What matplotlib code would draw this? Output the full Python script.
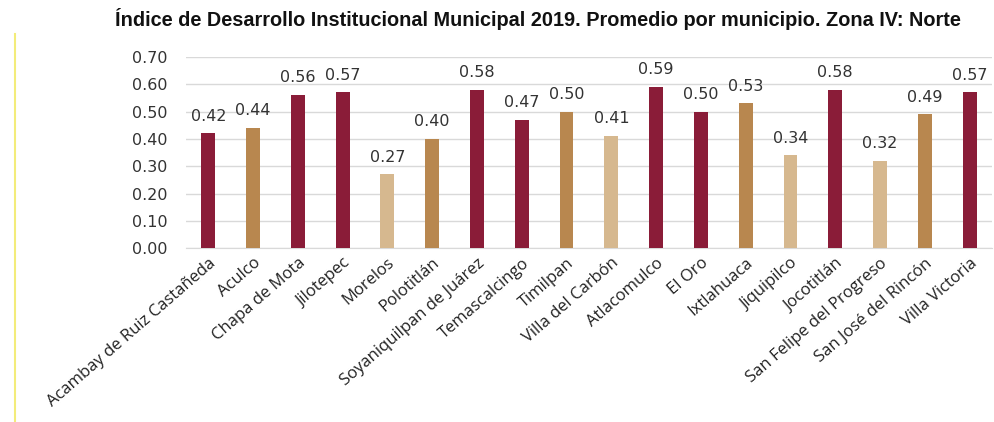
import matplotlib.pyplot as plt
from matplotlib.lines import Line2D

# -------------------------
# Data
# -------------------------
municipios = [
    "Acambay de Ruiz Castañeda", "Aculco", "Chapa de Mota", "Jilotepec", "Morelos",
    "Polotitlán", "Soyaniquilpan de Juárez", "Temascalcingo", "Timilpan",
    "Villa del Carbón", "Atlacomulco", "El Oro", "Ixtlahuaca", "Jiquipilco",
    "Jocotitlán", "San Felipe del Progreso", "San José del Rincón", "Villa Victoria",
]
valores = [0.42, 0.44, 0.56, 0.57, 0.27, 0.40, 0.58, 0.47, 0.50,
           0.41, 0.59, 0.50, 0.53, 0.34, 0.58, 0.32, 0.49, 0.57]
# nivel de color: 0 = guinda, 1 = dorado, 2 = dorado claro
niveles = [0, 1, 0, 0, 2, 1, 0, 0, 1, 2, 0, 0, 1, 2, 0, 2, 1, 0]

paleta = ["#8A1C38", "#B8874F", "#D6B88F"]
colores = [paleta[n] for n in niveles]

# -------------------------
# Plot
# -------------------------
fig = plt.figure(figsize=(9.94, 4.22), dpi=100)
ax = fig.add_axes([0.187, 0.412, 0.811, 0.453])

x = range(len(municipios))
ax.bar(x, valores, width=0.31, color=colores, zorder=3)

for xi, v in zip(x, valores):
    ax.annotate(f"{v:.2f}", (xi, v), xytext=(0, 7), textcoords="offset points",
                ha="center", va="bottom", fontsize=11.5, color="#333333",
                family="DejaVu Sans")

ax.set_ylim(0, 0.70)
ax.set_xlim(-0.5, len(municipios) - 0.5)
ax.set_yticks([i / 10 for i in range(8)])
ax.set_yticklabels([f"{i / 10:.2f}" for i in range(8)], fontsize=11.5,
                   color="#333333", family="DejaVu Sans")
ax.yaxis.grid(True, color="#D9D9D9", linewidth=1, zorder=0)
ax.tick_params(axis="y", length=0, pad=13)
ax.tick_params(axis="x", length=0, pad=5)
for s in ["top", "right", "left"]:
    ax.spines[s].set_visible(False)
ax.spines["bottom"].set_color("#D9D9D9")

ax.set_xticks(list(x))
ax.set_xticklabels(municipios, rotation=41, ha="right", rotation_mode="anchor",
                   fontsize=12, family=["Open Sans", "DejaVu Sans"], color="#222222")

fig.text(0.541, 0.955, "Índice de Desarrollo Institucional Municipal 2019. Promedio por municipio. Zona IV: Norte",
         ha="center", va="center", fontsize=14.3, fontweight="bold",
         family=["Liberation Sans Narrow", "Liberation Sans", "DejaVu Sans"], color="#111111")

# línea amarilla decorativa a la izquierda
fig.add_artist(Line2D([0.015, 0.015], [0, 0.92], transform=fig.transFigure,
                      color="#F3EC7A", linewidth=1.5))

fig.savefig("out.png", dpi=100)
